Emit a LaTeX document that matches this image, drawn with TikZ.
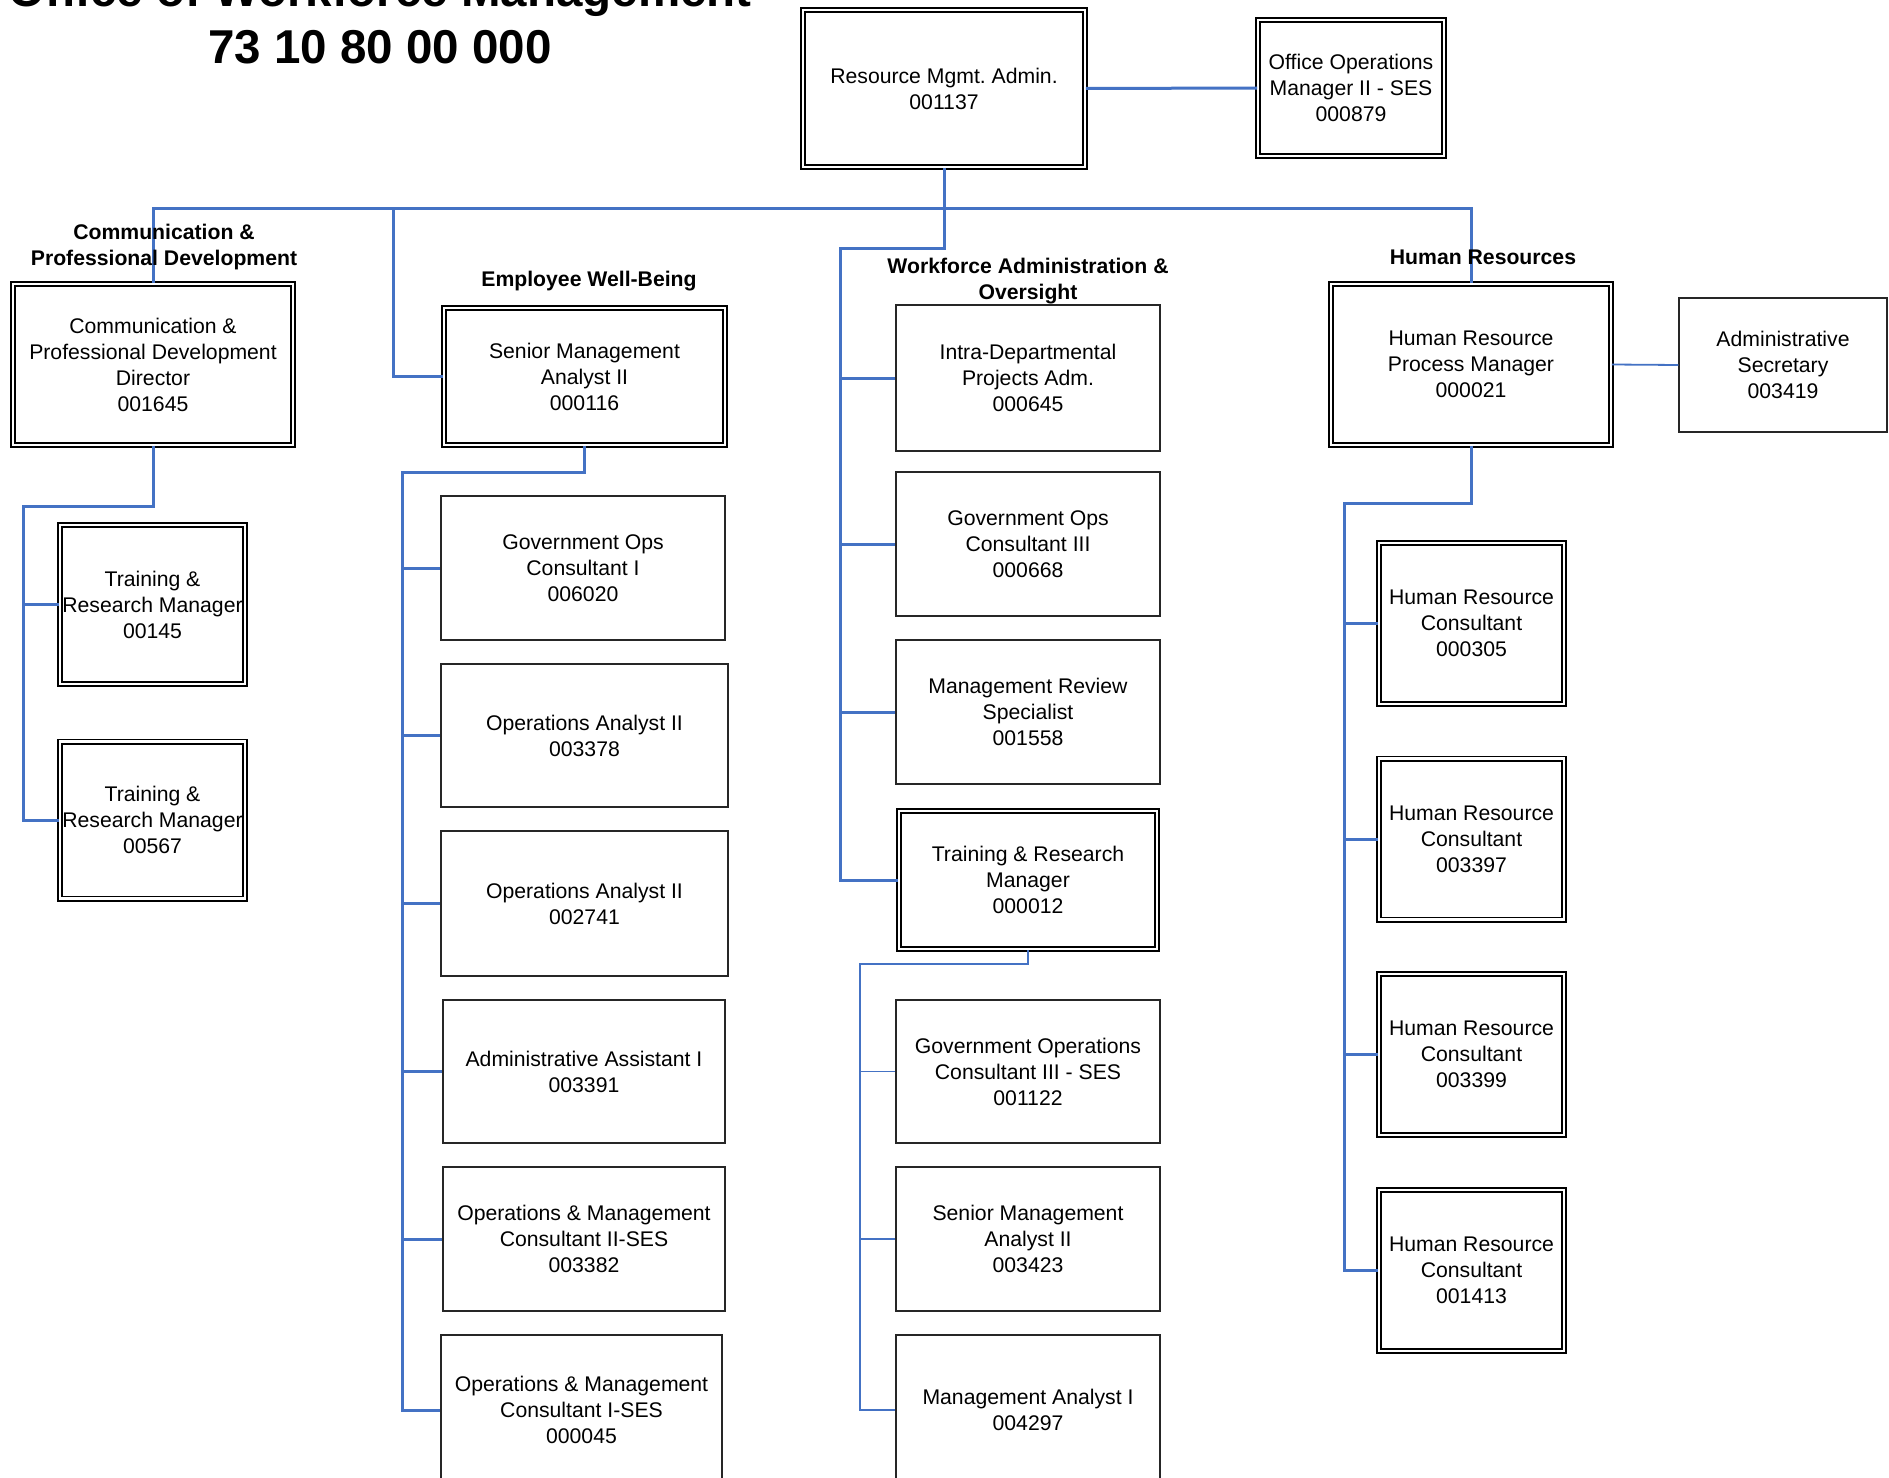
\documentclass[tikz,border=0pt]{standalone}
\usepackage{fontspec}
\setmainfont{Liberation Sans}
\frenchspacing
\definecolor{linkblue}{HTML}{4472C4}
\newcommand{\boxfont}{\fontsize{10.6}{13}\selectfont}
\newcommand{\grouplabelfont}{\fontsize{10.6}{13}\selectfont\bfseries}
\newcommand{\charttitlefont}{\fontsize{23.75}{24.5}\selectfont\bfseries}
\begin{document}
\begin{tikzpicture}[x=0.5pt,y=-0.5pt,
  conn/.style={draw=linkblue,line width=1.5pt},
  thinconn/.style={draw=linkblue,line width=0.9pt},
  dbox/.style={draw=black,double=white,line width=0.8pt,double distance=1.4pt,
    align=center,inner sep=0pt,font=\boxfont},
  sbox/.style={draw=black!85,line width=0.6pt,align=center,inner sep=0pt,font=\boxfont},
  grouplabel/.style={align=center,font=\grouplabelfont,inner sep=0pt},
  charttitle/.style={anchor=base,font=\charttitlefont,inner sep=0pt}
]
\fill[white] (0,0) rectangle (1889,1477);
\useasboundingbox (0,0) rectangle (1889,1477);

% ---- title ----
\node[charttitle] (title1) at (380,7) {Office of Workforce Management};
\node[charttitle] (title2) at (380,64) {73 10 80 00 000};

% ---- top level ----
\node[dbox,minimum width=141pt,minimum height=78.5pt] (rma) at (944,88.5)
  {Resource Mgmt. Admin.\\001137};
\node[dbox,minimum width=93pt,minimum height=68pt] (oom) at (1351,88)
  {Office Operations\\Manager II - SES\\000879};

% ---- division heads ----
\node[dbox,minimum width=140pt,minimum height=80.5pt] (dir) at (153,364.5)
  {Communication \&\\Professional Development\\Director\\001645};
\node[dbox,minimum width=140.5pt,minimum height=68.5pt] (sma) at (584.5,376.5)
  {Senior Management\\Analyst II\\000116};
\node[dbox,minimum width=140pt,minimum height=80.5pt] (hrpm) at (1471,364.5)
  {Human Resource\\Process Manager\\000021};
\node[sbox,minimum width=104pt,minimum height=67pt] (adm) at (1783,365)
  {Administrative\\Secretary\\003419};

% ---- communication & professional development ----
\node[dbox,minimum width=92.5pt,minimum height=79.5pt] (trm1) at (152.5,604.5)
  {Training \&\\Research Manager\\00145};
\node[dbox,minimum width=92.5pt,minimum height=78.5pt] (trm2) at (152.5,820)
  {Training \&\\Research Manager\\00567};

% ---- employee well-being ----
\node[sbox,minimum width=142pt,minimum height=72pt] (goc1) at (583,568)
  {Government Ops\\Consultant I\\006020};
\node[sbox,minimum width=143.5pt,minimum height=71.5pt] (oa1) at (584.5,735.5)
  {Operations Analyst II\\003378};
\node[sbox,minimum width=143.5pt,minimum height=72.5pt] (oa2) at (584.5,903.5)
  {Operations Analyst II\\002741};
\node[sbox,minimum width=141pt,minimum height=71.5pt] (aa1) at (584,1071.5)
  {Administrative Assistant I\\003391};
\node[sbox,minimum width=141pt,minimum height=72pt] (omc2) at (584,1239)
  {Operations \& Management\\Consultant II-SES\\003382};
\node[sbox,minimum width=140.5pt,minimum height=75pt] (omc1) at (581.5,1410)
  {Operations \& Management\\Consultant I-SES\\000045};

% ---- workforce administration & oversight ----
\node[sbox,minimum width=132pt,minimum height=73pt] (intra) at (1028,378)
  {Intra-Departmental\\Projects Adm.\\000645};
\node[sbox,minimum width=132pt,minimum height=72pt] (goc3) at (1028,544)
  {Government Ops\\Consultant III\\000668};
\node[sbox,minimum width=132pt,minimum height=72pt] (mrs) at (1028,712)
  {Management Review\\Specialist\\001558};
\node[dbox,minimum width=129pt,minimum height=69pt] (trm3) at (1028,880)
  {Training \& Research\\Manager\\000012};
\node[sbox,minimum width=132pt,minimum height=71.5pt] (goc3s) at (1028,1071.5)
  {Government Operations\\Consultant III - SES\\001122};
\node[sbox,minimum width=132pt,minimum height=72pt] (sma2) at (1028,1239)
  {Senior Management\\Analyst II\\003423};
\node[sbox,minimum width=132pt,minimum height=75pt] (ma1) at (1028,1410)
  {Management Analyst I\\004297};

% ---- human resources ----
\node[dbox,minimum width=92.5pt,minimum height=80.5pt] (hrc1) at (1471.5,623.5)
  {Human Resource\\Consultant\\000305};
\node[dbox,minimum width=92.5pt,minimum height=80.5pt] (hrc2) at (1471.5,839)
  {Human Resource\\Consultant\\003397};
\node[dbox,minimum width=92.5pt,minimum height=80.5pt] (hrc3) at (1471.5,1054.5)
  {Human Resource\\Consultant\\003399};
\node[dbox,minimum width=92.5pt,minimum height=80.5pt] (hrc4) at (1471.5,1270.5)
  {Human Resource\\Consultant\\001413};

% ---- junction points ----
\coordinate (bus) at (944,208);
\coordinate (ewbx) at (393,208);
\coordinate (waoj) at (840,248);
\coordinate (dirj) at (23,506);
\coordinate (ewbj) at (402,472);
\coordinate (trmj) at (860,964);
\coordinate (hrj) at (1344,503.5);

% ---- connectors ----
\draw[conn] (dir.north) -- (dir.north |- bus) -- (hrpm.north |- bus) -- (hrpm.north);
\draw[conn] (ewbx) |- (sma.west);
\draw[conn] (rma.south) |- (waoj) -- (waoj |- trm3.west) -- (trm3.west);
\foreach \n in {intra,goc3,mrs} \draw[conn] (waoj |- \n.west) -- (\n.west);
\draw[conn] (rma.east) -- (oom.west);
\draw[thinconn] (hrpm.east) -- (adm.west);

\draw[conn] (dir.south) |- (dirj) |- (trm2.west);
\draw[conn] (dirj |- trm1.west) -- (trm1.west);

\draw[conn] (sma.south) |- (ewbj) |- (omc1.west);
\foreach \n in {goc1,oa1,oa2,aa1,omc2} \draw[conn] (ewbj |- \n.west) -- (\n.west);

\draw[thinconn] (trm3.south) |- (trmj) |- (ma1.west);
\foreach \n in {goc3s,sma2} \draw[thinconn] (trmj |- \n.west) -- (\n.west);

\draw[conn] (hrpm.south) |- (hrj) |- (hrc4.west);
\foreach \n in {hrc1,hrc2,hrc3} \draw[conn] (hrj |- \n.west) -- (\n.west);

% ---- group headings ----
\node[grouplabel] (gcpd) at (164,247) {Communication \&\\Professional Development};
\node[grouplabel] (gewb) at (589,281) {Employee Well-Being};
\node[grouplabel] (gwao) at (1028,281) {Workforce Administration \&\\Oversight};
\node[grouplabel] (ghr) at (1483,257) {Human Resources};
\end{tikzpicture}
\end{document}
